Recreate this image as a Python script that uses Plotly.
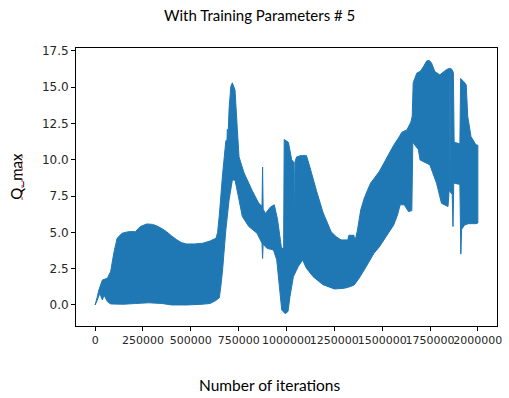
import plotly.graph_objects as go

# Upper envelope of the oscillating Q_max trace (iteration, value)
upper_x = [0, 10000, 20000, 38000, 64000, 81000, 98000, 115000, 141000, 175000,
           210000, 236000, 270000, 300000, 322000, 350000, 373000, 400000, 425000, 450000,
           477000, 520000, 562000, 600000, 623000, 632000, 640000, 649000, 666000, 683000,
           689000, 691000, 694000, 700000, 709000, 717000, 731000, 743000, 752000, 778000,
           820000, 855000, 872000, 875000, 878000, 890000, 915000, 936000, 953000, 975000,
           985000, 988000, 1010000, 1027000, 1040000, 1042000, 1045000, 1053000, 1078000, 1082000,
           1083000, 1085000, 1097000, 1098000, 1100000, 1104000, 1122000, 1156000, 1190000, 1233000,
           1260000, 1285000, 1320000, 1326000, 1352000, 1358000, 1370000, 1388000, 1405000, 1423000,
           1440000, 1457000, 1485000, 1509000, 1535000, 1560000, 1585000, 1603000, 1629000, 1650000,
           1657000, 1662000, 1681000, 1700000, 1715000, 1732000, 1745000, 1758000, 1775000, 1801000,
           1835000, 1852000, 1854000, 1857000, 1866000, 1872000, 1876000, 1906000, 1910000, 1925000,
           1939000, 1947000, 1964000, 1990000, 2000000]
upper_y = [0.0, 0.5, 1.05, 1.72, 1.84, 2.3, 3.6, 4.6, 4.94, 5.05,
           5.05, 5.4, 5.58, 5.55, 5.45, 5.25, 5.05, 4.75, 4.5, 4.3,
           4.2, 4.2, 4.25, 4.4, 4.55, 4.6, 5.0, 6.2, 9.0, 11.3,
           11.4, 12.1, 11.4, 13.5, 15.05, 15.3, 14.8, 12.1, 10.2, 9.1,
           7.9, 7.0, 6.8, 9.5, 6.6, 6.3, 6.73, 6.9, 5.9, 3.8,
           4.0, 11.4, 11.2, 10.0, 9.8, 4.4, 9.9, 10.2, 10.3, 10.3,
           5.3, 10.3, 10.3, 5.3, 10.3, 10.3, 9.5, 7.9, 6.4, 5.05,
           4.7, 4.48, 4.48, 4.8, 4.8, 4.4, 5.1, 6.55, 7.3, 7.9,
           8.4, 8.7, 9.2, 9.77, 10.4, 11.0, 11.5, 11.9, 12.06, 12.6,
           13.0, 15.3, 15.97, 16.1, 16.4, 16.8, 16.85, 16.66, 16.08, 15.85,
           16.2, 16.3, 7.9, 16.3, 16.2, 16.0, 11.2, 11.1, 15.6, 15.4,
           15.16, 13.0, 11.6, 11.03, 11.0]

# Lower envelope of the oscillating Q_max trace (iteration, value)
lower_x = [0, 10000, 24000, 38000, 46000, 64000, 81000, 150000, 210000, 280000,
           350000, 400000, 480000, 560000, 600000, 630000, 649000, 657000, 666000, 683000,
           700000, 717000, 731000, 752000, 769000, 803000, 846000, 872000, 875000, 878000,
           898000, 932000, 949000, 963000, 975000, 993000, 1008000, 1018000, 1036000, 1061000,
           1084000, 1104000, 1139000, 1190000, 1251000, 1302000, 1330000, 1354000, 1380000, 1406000,
           1430000, 1457000, 1485000, 1509000, 1535000, 1560000, 1580000, 1594000, 1615000, 1638000,
           1655000, 1660000, 1689000, 1698000, 1749000, 1784000, 1810000, 1844000, 1850000, 1866000,
           1870000, 1874000, 1906000, 1911000, 1915000, 1930000, 1950000, 1990000, 2000000]
lower_y = [0.0, 0.3, 0.8, 0.34, 0.69, 0.23, 0.07, 0.05, 0.1, 0.15,
           0.1, 0.0, 0.0, 0.05, 0.1, 0.3, 0.5, 1.3, 2.41, 5.17,
           7.24, 8.6, 8.6, 7.24, 6.1, 5.4, 4.94, 4.25, 3.2, 4.2,
           3.9, 3.79, 3.1, 1.26, -0.34, -0.6, -0.45, 0.57, 1.95, 2.64,
           3.1, 2.53, 1.95, 1.4, 1.1, 1.15, 1.25, 1.38, 1.85, 2.41,
           2.95, 3.56, 4.0, 4.48, 5.0, 5.5, 6.2, 6.9, 6.9, 6.43,
           6.5, 11.2, 10.7, 9.99, 9.65, 8.39, 7.0, 6.78, 7.9, 7.6,
           5.4, 8.4, 8.3, 3.5, 5.2, 5.5, 5.6, 5.6, 5.65]

x_tickvals = [0, 250000, 500000, 750000, 1000000, 1250000, 1500000, 1750000, 2000000]
x_ticktext = [str(v) for v in x_tickvals]
y_tickvals = [0.0, 2.5, 5.0, 7.5, 10.0, 12.5, 15.0, 17.5]
y_ticktext = ["%.1f" % v for v in y_tickvals]

title_text = "With Training Parameters # 5"
xlabel_text = "Number of iterations"
ylabel_text = "Q_max"

blue = "#1f77b4"

poly_x = upper_x + lower_x[::-1]
poly_y = upper_y + lower_y[::-1]

fig = go.Figure()
fig.add_trace(go.Scatter(
    x=poly_x, y=poly_y, mode="lines", fill="toself",
    fillcolor=blue, line=dict(color=blue, width=1, simplify=False),
    hoverinfo="skip", showlegend=False,
))

axis_common = dict(
    showline=True, mirror=True, linecolor="#000000", linewidth=1,
    ticks="outside", ticklen=4, tickwidth=1, tickcolor="#000000",
    showgrid=False, zeroline=False, ticklabeloverflow="allow",
)

fig.update_xaxes(range=[-100000, 2100000], tickmode="array",
                 tickvals=x_tickvals, ticktext=x_ticktext, tickangle=0,
                 tickfont=dict(family="DejaVu Sans", size=11, color="#262626"),
                 **axis_common)
fig.update_yaxes(range=[-1.45, 17.7], tickmode="array",
                 tickvals=y_tickvals, ticktext=y_ticktext,
                 tickfont=dict(family="DejaVu Sans", size=12, color="#262626"),
                 **axis_common)

text_font = dict(family="Lato", size=15, color="#000000")
fig.update_layout(
    width=509, height=398,
    margin=dict(l=76, r=7, t=48, b=72),
    paper_bgcolor="white", plot_bgcolor="white",
    showlegend=False,
    annotations=[
        dict(text=title_text, xref="paper", yref="paper", x=0.435, y=1.119,
             xanchor="center", yanchor="middle", showarrow=False, font=text_font),
        dict(text=xlabel_text, xref="paper", yref="paper", x=0.459, y=-0.212,
             xanchor="center", yanchor="middle", showarrow=False,
             font=dict(family="Lato", size=15.5, color="#000000")),
        dict(text=ylabel_text, xref="paper", yref="paper", x=-0.143, y=0.54,
             xanchor="center", yanchor="middle", showarrow=False, textangle=-90,
             font=text_font),
    ],
    shapes=[
        dict(type="line", xref="paper", yref="paper", x0=-0.128, x1=-0.128,
             y0=0.453, y1=0.625, line=dict(color="#e03030", width=1, dash="dot")),
    ],
)

fig.write_html("out.html")
